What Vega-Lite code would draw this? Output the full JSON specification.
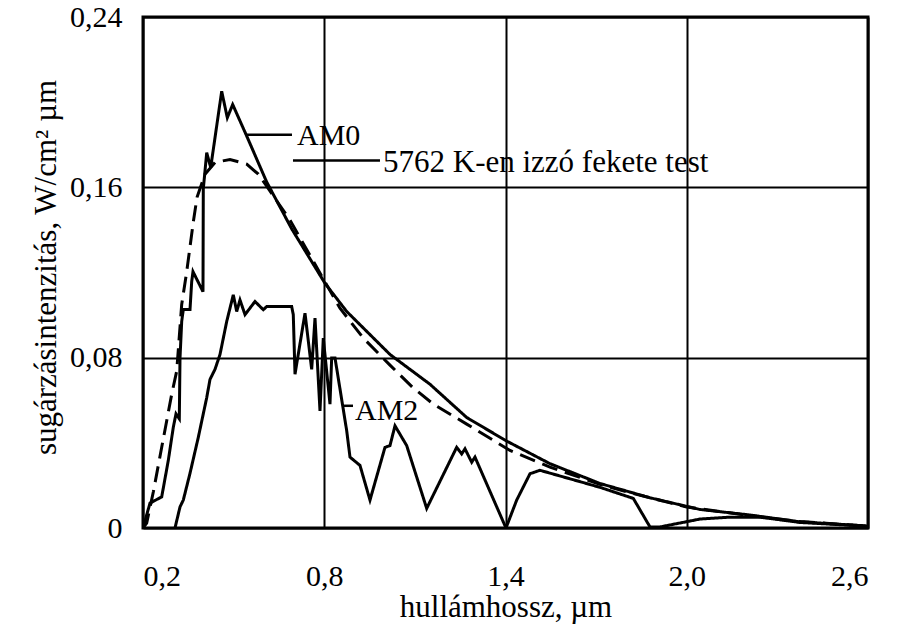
{
  "$schema": "https://vega.github.io/schema/vega-lite/v6.json",
  "width": 725,
  "height": 511,
  "autosize": {"type": "none"},
  "padding": {"left": 143, "top": 17, "right": 30, "bottom": 97},
  "background": "white",
  "config": {
    "font": "Liberation Serif",
    "view": {"stroke": "black", "strokeWidth": 3},
    "axis": {
      "labelFont": "Liberation Serif",
      "titleFont": "Liberation Serif",
      "labelFontSize": 30,
      "titleFontSize": 31,
      "labelColor": "black",
      "titleColor": "black",
      "titleFontWeight": "normal",
      "domain": false,
      "ticks": false,
      "tickSize": 0,
      "grid": true,
      "gridColor": "black",
      "gridWidth": 2,
      "gridOpacity": 1
    }
  },
  "datasets": {
    "curves": [
      {"series": "AM0", "i": 1, "x": 0.2, "y": 0},
      {"series": "AM0", "i": 2, "x": 0.2232, "y": 0.0117},
      {"series": "AM0", "i": 3, "x": 0.2619, "y": 0.0146},
      {"series": "AM0", "i": 4, "x": 0.2837, "y": 0.0317},
      {"series": "AM0", "i": 5, "x": 0.3003, "y": 0.0473},
      {"series": "AM0", "i": 6, "x": 0.3092, "y": 0.0536},
      {"series": "AM0", "i": 7, "x": 0.3202, "y": 0.0513},
      {"series": "AM0", "i": 8, "x": 0.3225, "y": 0.0799},
      {"series": "AM0", "i": 9, "x": 0.3281, "y": 0.097},
      {"series": "AM0", "i": 10, "x": 0.3334, "y": 0.1026},
      {"series": "AM0", "i": 11, "x": 0.3556, "y": 0.1026},
      {"series": "AM0", "i": 12, "x": 0.3612, "y": 0.1157},
      {"series": "AM0", "i": 13, "x": 0.3655, "y": 0.1204},
      {"series": "AM0", "i": 14, "x": 0.3986, "y": 0.111},
      {"series": "AM0", "i": 15, "x": 0.3996, "y": 0.1592},
      {"series": "AM0", "i": 16, "x": 0.4109, "y": 0.1763},
      {"series": "AM0", "i": 17, "x": 0.4241, "y": 0.1693},
      {"series": "AM0", "i": 18, "x": 0.4605, "y": 0.2051},
      {"series": "AM0", "i": 19, "x": 0.4791, "y": 0.1927},
      {"series": "AM0", "i": 20, "x": 0.4969, "y": 0.1989},
      {"series": "AM0", "i": 21, "x": 0.5433, "y": 0.1841},
      {"series": "AM0", "i": 22, "x": 0.6095, "y": 0.1625},
      {"series": "AM0", "i": 23, "x": 0.6922, "y": 0.1405},
      {"series": "AM0", "i": 24, "x": 0.8025, "y": 0.1149},
      {"series": "AM0", "i": 25, "x": 0.8743, "y": 0.1017},
      {"series": "AM0", "i": 26, "x": 1.0176, "y": 0.0815},
      {"series": "AM0", "i": 27, "x": 1.1501, "y": 0.0675},
      {"series": "AM0", "i": 28, "x": 1.2716, "y": 0.0519},
      {"series": "AM0", "i": 29, "x": 1.4016, "y": 0.041},
      {"series": "AM0", "i": 30, "x": 1.5473, "y": 0.0302},
      {"series": "AM0", "i": 31, "x": 1.7128, "y": 0.0209},
      {"series": "AM0", "i": 32, "x": 1.8783, "y": 0.0142},
      {"series": "AM0", "i": 33, "x": 2.0438, "y": 0.0087},
      {"series": "AM0", "i": 34, "x": 2.2093, "y": 0.0061},
      {"series": "AM0", "i": 35, "x": 2.3749, "y": 0.0029},
      {"series": "AM0", "i": 36, "x": 2.6, "y": 0.0009},

      {"series": "BB", "i": 1, "x": 0.2, "y": 0},
      {"series": "BB", "i": 2, "x": 0.2122, "y": 0.0023},
      {"series": "BB", "i": 3, "x": 0.2341, "y": 0.0169},
      {"series": "BB", "i": 4, "x": 0.2619, "y": 0.0379},
      {"series": "BB", "i": 5, "x": 0.295, "y": 0.0628},
      {"series": "BB", "i": 6, "x": 0.3116, "y": 0.0737},
      {"series": "BB", "i": 7, "x": 0.3281, "y": 0.105},
      {"series": "BB", "i": 8, "x": 0.3447, "y": 0.1204},
      {"series": "BB", "i": 9, "x": 0.3665, "y": 0.1437},
      {"series": "BB", "i": 10, "x": 0.3788, "y": 0.1553},
      {"series": "BB", "i": 11, "x": 0.4052, "y": 0.1661},
      {"series": "BB", "i": 12, "x": 0.4383, "y": 0.1717},
      {"series": "BB", "i": 13, "x": 0.488, "y": 0.1731},
      {"series": "BB", "i": 14, "x": 0.5433, "y": 0.1709},
      {"series": "BB", "i": 15, "x": 0.5817, "y": 0.1662},
      {"series": "BB", "i": 16, "x": 0.6095, "y": 0.1605},
      {"series": "BB", "i": 17, "x": 0.6866, "y": 0.1446},
      {"series": "BB", "i": 18, "x": 0.8521, "y": 0.1032},
      {"series": "BB", "i": 19, "x": 0.9293, "y": 0.0892},
      {"series": "BB", "i": 20, "x": 1.0176, "y": 0.0765},
      {"series": "BB", "i": 21, "x": 1.0938, "y": 0.0659},
      {"series": "BB", "i": 22, "x": 1.161, "y": 0.0582},
      {"series": "BB", "i": 23, "x": 1.2716, "y": 0.0488},
      {"series": "BB", "i": 24, "x": 1.4149, "y": 0.0364},
      {"series": "BB", "i": 25, "x": 1.5473, "y": 0.0286},
      {"series": "BB", "i": 26, "x": 1.7128, "y": 0.0205},
      {"series": "BB", "i": 27, "x": 1.8221, "y": 0.0162},
      {"series": "BB", "i": 28, "x": 1.9997, "y": 0.0099},
      {"series": "BB", "i": 29, "x": 2.2093, "y": 0.0058},
      {"series": "BB", "i": 30, "x": 2.3749, "y": 0.003},
      {"series": "BB", "i": 31, "x": 2.6, "y": 0.0009},

      {"series": "AM2", "i": 1, "x": 0.3059, "y": 0},
      {"series": "AM2", "i": 2, "x": 0.3225, "y": 0.0099},
      {"series": "AM2", "i": 3, "x": 0.3334, "y": 0.0131},
      {"series": "AM2", "i": 4, "x": 0.3556, "y": 0.0257},
      {"series": "AM2", "i": 5, "x": 0.3831, "y": 0.0426},
      {"series": "AM2", "i": 6, "x": 0.4109, "y": 0.0612},
      {"series": "AM2", "i": 7, "x": 0.4218, "y": 0.0698},
      {"series": "AM2", "i": 8, "x": 0.4383, "y": 0.0745},
      {"series": "AM2", "i": 9, "x": 0.4549, "y": 0.0815},
      {"series": "AM2", "i": 10, "x": 0.4771, "y": 0.097},
      {"series": "AM2", "i": 11, "x": 0.4989, "y": 0.1095},
      {"series": "AM2", "i": 12, "x": 0.5102, "y": 0.1017},
      {"series": "AM2", "i": 13, "x": 0.5211, "y": 0.1071},
      {"series": "AM2", "i": 14, "x": 0.5377, "y": 0.1002},
      {"series": "AM2", "i": 15, "x": 0.5708, "y": 0.1064},
      {"series": "AM2", "i": 16, "x": 0.5982, "y": 0.1025},
      {"series": "AM2", "i": 17, "x": 0.6095, "y": 0.104},
      {"series": "AM2", "i": 18, "x": 0.6922, "y": 0.104},
      {"series": "AM2", "i": 19, "x": 0.6975, "y": 0.1002},
      {"series": "AM2", "i": 20, "x": 0.7032, "y": 0.0722},
      {"series": "AM2", "i": 21, "x": 0.7363, "y": 0.1009},
      {"series": "AM2", "i": 22, "x": 0.7584, "y": 0.0745},
      {"series": "AM2", "i": 23, "x": 0.7694, "y": 0.0986},
      {"series": "AM2", "i": 24, "x": 0.7859, "y": 0.055},
      {"series": "AM2", "i": 25, "x": 0.7968, "y": 0.0892},
      {"series": "AM2", "i": 26, "x": 0.819, "y": 0.0582},
      {"series": "AM2", "i": 27, "x": 0.8246, "y": 0.0799},
      {"series": "AM2", "i": 28, "x": 0.8356, "y": 0.0799},
      {"series": "AM2", "i": 29, "x": 0.8743, "y": 0.0457},
      {"series": "AM2", "i": 30, "x": 0.8852, "y": 0.0333},
      {"series": "AM2", "i": 31, "x": 0.9183, "y": 0.0294},
      {"series": "AM2", "i": 32, "x": 0.9514, "y": 0.0131},
      {"series": "AM2", "i": 33, "x": 1.0011, "y": 0.0379},
      {"series": "AM2", "i": 34, "x": 1.0176, "y": 0.0387},
      {"series": "AM2", "i": 35, "x": 1.0342, "y": 0.048},
      {"series": "AM2", "i": 36, "x": 1.0729, "y": 0.0387},
      {"series": "AM2", "i": 37, "x": 1.1391, "y": 0.0092},
      {"series": "AM2", "i": 38, "x": 1.2384, "y": 0.0379},
      {"series": "AM2", "i": 39, "x": 1.255, "y": 0.0348},
      {"series": "AM2", "i": 40, "x": 1.2659, "y": 0.0372},
      {"series": "AM2", "i": 41, "x": 1.2881, "y": 0.0309},
      {"series": "AM2", "i": 42, "x": 1.299, "y": 0.0333},
      {"series": "AM2", "i": 43, "x": 1.4016, "y": 0},
      {"series": "AM2", "i": 44, "x": 1.437, "y": 0.0131},
      {"series": "AM2", "i": 45, "x": 1.4811, "y": 0.0255},
      {"series": "AM2", "i": 46, "x": 1.5142, "y": 0.0271},
      {"series": "AM2", "i": 47, "x": 1.7128, "y": 0.0191},
      {"series": "AM2", "i": 48, "x": 1.8231, "y": 0.0139},
      {"series": "AM2", "i": 49, "x": 1.8783, "y": 0.0005},
      {"series": "AM2", "i": 50, "x": 1.9114, "y": 0.0005},
      {"series": "AM2", "i": 51, "x": 2.0438, "y": 0.0042},
      {"series": "AM2", "i": 52, "x": 2.1431, "y": 0.0051},
      {"series": "AM2", "i": 53, "x": 2.2424, "y": 0.0051},
      {"series": "AM2", "i": 54, "x": 2.3749, "y": 0.0026},
      {"series": "AM2", "i": 55, "x": 2.5934, "y": 0.0009}
    ],
    "leaders": [
      {"id": "a", "x": 0.541, "y": 0.1847},
      {"id": "a", "x": 0.6932, "y": 0.1847},
      {"id": "b", "x": 0.6965, "y": 0.1726},
      {"id": "b", "x": 0.9845, "y": 0.1726},
      {"id": "c", "x": 0.8654, "y": 0.0574},
      {"id": "c", "x": 0.8952, "y": 0.0574}
    ],
    "labels": [
      {"label": "AM0", "size": 30, "x": 0.7098, "y": 0.1797},
      {"label": "5762 K-en izzó fekete test", "size": 31, "x": 0.9945, "y": 0.1674},
      {"label": "AM2", "size": 30, "x": 0.9018, "y": 0.0508}
    ]
  },
  "layer": [
    {
      "data": {"name": "curves"},
      "mark": {"type": "line", "color": "black", "strokeWidth": 3, "strokeJoin": "miter", "clip": true},
      "encoding": {
        "x": {
          "field": "x", "type": "quantitative",
          "scale": {"domain": [0.2, 2.6], "nice": false, "zero": false},
          "axis": {
            "values": [0.2, 0.8, 1.4, 2.0, 2.6],
            "labelExpr": "replace(format(datum.value, '.1f'), '.', ',')",
            "labelPadding": 33,
            "title": "hullámhossz, µm",
            "titleBaseline": "alphabetic",
            "titleY": 88
          }
        },
        "y": {
          "field": "y", "type": "quantitative",
          "scale": {"domain": [0, 0.24], "nice": false},
          "axis": {
            "values": [0, 0.08, 0.16, 0.24],
            "labelExpr": "datum.value == 0 ? '0' : replace(format(datum.value, '.2f'), '.', ',')",
            "labelPadding": 21,
            "title": "sugárzásintenzitás, W/cm² µm",
            "titleBaseline": "alphabetic",
            "titleX": -88,
            "titleY": 250
          }
        },
        "detail": {"field": "series", "type": "nominal"},
        "order": {"field": "i", "type": "quantitative"},
        "strokeDash": {
          "field": "series", "type": "nominal",
          "scale": {"domain": ["AM0", "AM2", "BB"], "range": [[1, 0], [1, 0], [16, 8]]},
          "legend": null
        }
      }
    },
    {
      "data": {"name": "leaders"},
      "mark": {"type": "line", "color": "black", "strokeWidth": 2.5},
      "encoding": {
        "x": {"field": "x", "type": "quantitative"},
        "y": {"field": "y", "type": "quantitative"},
        "detail": {"field": "id", "type": "nominal"}
      }
    },
    {
      "data": {"name": "labels"},
      "mark": {"type": "text", "align": "left", "baseline": "alphabetic", "font": "Liberation Serif", "color": "black"},
      "encoding": {
        "x": {"field": "x", "type": "quantitative"},
        "y": {"field": "y", "type": "quantitative"},
        "text": {"field": "label", "type": "nominal"},
        "size": {"field": "size", "type": "quantitative", "scale": null, "legend": null}
      }
    }
  ]
}
